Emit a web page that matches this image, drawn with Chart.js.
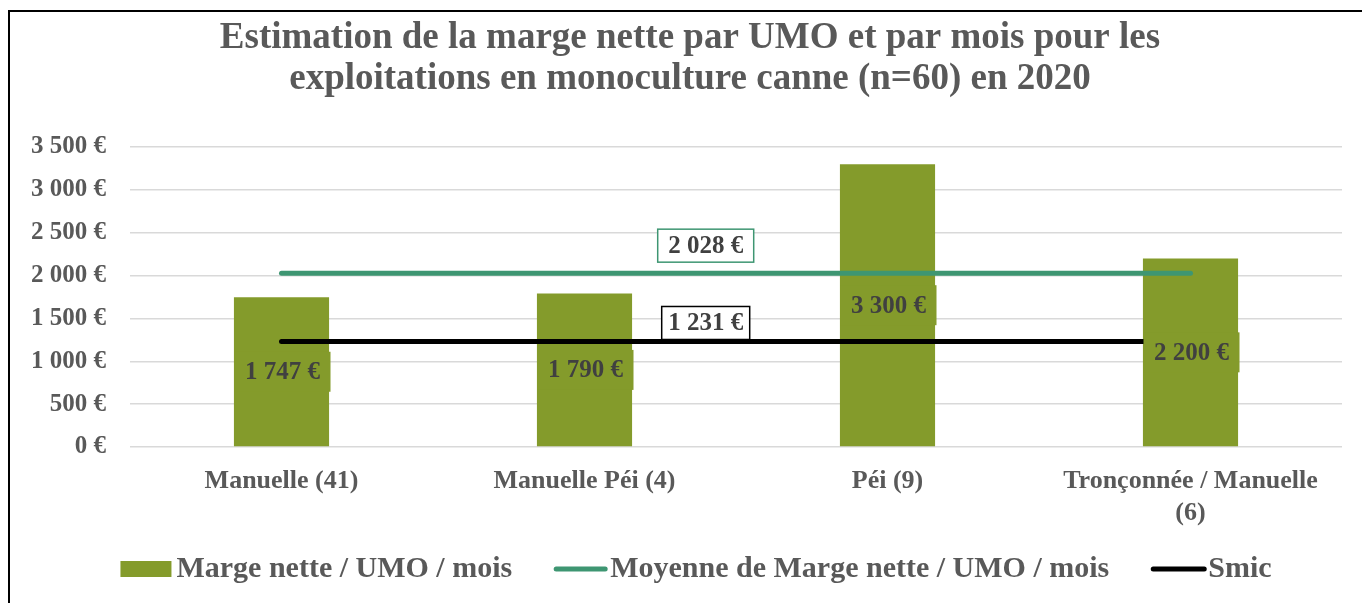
<!DOCTYPE html>
<html>
<head>
<meta charset="utf-8">
<script src="https://cdn.jsdelivr.net/npm/chart.js@4.4.1/dist/chart.umd.min.js"></script>
<style>
  html, body { margin: 0; padding: 0; background: #fff; overflow: hidden; }
  #wrap { position: relative; width: 1362px; height: 603px; }
  #frame { position: absolute; left: 8px; top: 10px; width: 1400px; height: 700px; border: 2px solid #000; box-sizing: border-box; pointer-events: none; }
  canvas { position: absolute; left: 0; top: 0; }
</style>
</head>
<body>
<div id="wrap">
  <canvas id="c" width="1362" height="603"></canvas>
  <div id="frame"></div>
</div>
<script>
const titleLines = ['Estimation de la marge nette par UMO et par mois pour les', 'exploitations en monoculture canne (n=60) en 2020'];
const categories = ['Manuelle (41)', 'Manuelle Péi (4)', 'Péi (9)', ['Tronçonnée / Manuelle', '(6)']];
const margeNette = [1747, 1790, 3300, 2200];
const moyenne = [2028, 2028, 2028, 2028];
const smic = [1231, 1231, 1231, 1231];
const seriesNames = ['Marge nette / UMO / mois', 'Moyenne de Marge nette / UMO / mois', 'Smic'];
const yTicks = [0, 500, 1000, 1500, 2000, 2500, 3000, 3500];

const FONT = '"Liberation Serif", "Times New Roman", serif';
const OLIVE = '#849B2B';
const TEAL = '#3E9672';
const GREY = '#595959';
const DARK = '#404040';

function fmt(v) {
  return String(v).replace(/\B(?=(\d{3})+(?!\d))/g, ' ') + ' €';
}

const overlay = {
  id: 'overlay',
  afterDatasetsDraw(chart) {
    const ctx = chart.ctx;
    const x = chart.scales.x, y = chart.scales.y;
    ctx.save();
    const meta = chart.getDatasetMeta(0);
    ctx.font = 'bold 25px ' + FONT;
    ctx.textAlign = 'center';
    ctx.textBaseline = 'middle';
    meta.data.forEach((bar, i) => {
      const cy = (bar.y + bar.base) / 2;
      ctx.fillStyle = OLIVE;
      ctx.fillRect(bar.x - 47, cy - 20, 96, 40);
      ctx.fillStyle = DARK;
      ctx.fillText(fmt(margeNette[i]), bar.x + 1, cy + 1);
    });
    const lbl = (val, color, off, w) => {
      const px = x.getPixelForValue(1.4);
      const py = y.getPixelForValue(val) - off;
      ctx.fillStyle = '#fff';
      ctx.fillRect(px - w / 2, py - 16, w, 33);
      ctx.strokeStyle = color;
      ctx.lineWidth = 1.5;
      ctx.strokeRect(px - w / 2, py - 16, w, 33);
      ctx.fillStyle = DARK;
      ctx.fillText(fmt(val), px, py + 1);
    };
    lbl(moyenne[0], TEAL, 28, 96);
    lbl(smic[0], '#000', 19, 88);
    ctx.restore();
  },
  afterDraw(chart) {
    const ctx = chart.ctx;
    ctx.save();
    ctx.fillStyle = GREY;
    ctx.font = 'bold 37px ' + FONT;
    ctx.textAlign = 'center';
    ctx.textBaseline = 'alphabetic';
    ctx.fillText(titleLines[0], 690, 48);
    ctx.fillText(titleLines[1], 690, 89);
    ctx.font = 'bold 30px ' + FONT;
    ctx.textAlign = 'left';
    ctx.textBaseline = 'middle';
    const items = [
      {name: seriesNames[0], kind: 'box', color: OLIVE, w: 51, tg: 5},
      {name: seriesNames[1], kind: 'line', color: TEAL, w: 55, tg: 2},
      {name: seriesNames[2], kind: 'line', color: '#000', w: 57, tg: 1}
    ];
    const gap = 41;
    let total = 0;
    items.forEach((it, i) => { it.tw = ctx.measureText(it.name).width; total += it.w + it.tg + it.tw + (i < items.length - 1 ? gap : 0); });
    let cx = 696 - total / 2;
    const ly = 569;
    items.forEach(it => {
      if (it.kind === 'box') {
        ctx.fillStyle = it.color;
        ctx.fillRect(cx, ly - 8, it.w, 16);
      } else {
        ctx.strokeStyle = it.color;
        ctx.lineWidth = 5;
        ctx.lineCap = 'round';
        ctx.beginPath();
        ctx.moveTo(cx + 3, ly);
        ctx.lineTo(cx + it.w - 3, ly);
        ctx.stroke();
      }
      cx += it.w + it.tg;
      ctx.fillStyle = GREY;
      ctx.fillText(it.name, cx, ly);
      cx += it.tw + gap;
    });
    ctx.restore();
  }
};

new Chart(document.getElementById('c'), {
  data: {
    labels: categories,
    datasets: [
      { type: 'bar', label: seriesNames[0], data: margeNette, backgroundColor: OLIVE, categoryPercentage: 1, barPercentage: 0.314, order: 3 },
      { type: 'line', label: seriesNames[1], data: moyenne, borderColor: TEAL, borderWidth: 5, pointRadius: 0, borderCapStyle: 'round', order: 1 },
      { type: 'line', label: seriesNames[2], data: smic, borderColor: '#000', borderWidth: 5, pointRadius: 0, borderCapStyle: 'round', order: 2 }
    ]
  },
  options: {
    responsive: false,
    animation: false,
    events: [],
    layout: { padding: { top: 147, left: 10, right: 20, bottom: 0 } },
    plugins: { legend: { display: false }, title: { display: false }, tooltip: { enabled: false } },
    scales: {
      x: {
        grid: { display: false, drawTicks: false },
        border: { display: false },
        ticks: { color: GREY, font: { family: FONT, size: 26, weight: 'bold', lineHeight: 1.2 }, padding: 19, maxRotation: 0, autoSkip: false },
        afterFit(s) { s.height = 156; }
      },
      y: {
        min: 0, max: 3500,
        afterBuildTicks(s) { s.ticks = yTicks.map(v => ({ value: v })); },
        grid: { color: '#D9D9D9', lineWidth: 1.5, drawTicks: false },
        border: { display: false },
        ticks: { color: GREY, font: { family: FONT, size: 25, weight: 'bold' }, padding: 24, callback: v => fmt(v) },
        afterFit(s) { s.width = 120; }
      }
    }
  },
  plugins: [overlay]
});
</script>
</body>
</html>
